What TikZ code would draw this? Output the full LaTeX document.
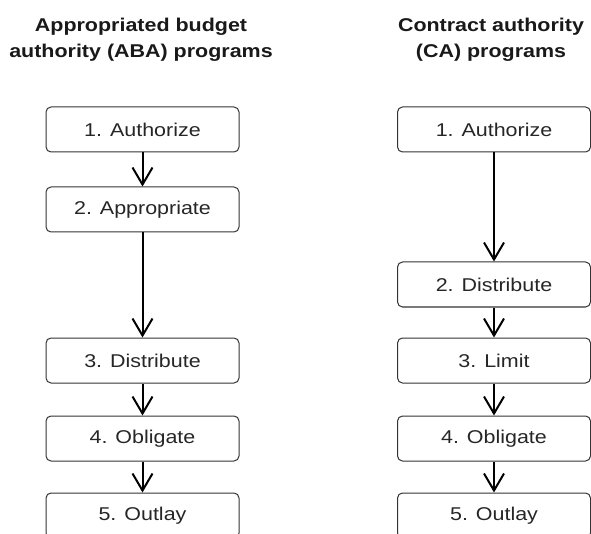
\documentclass[tikz,border=0pt]{standalone}
\usepackage{fontspec}
\setmainfont{Liberation Sans}[FakeStretch=1.16]
\usetikzlibrary{arrows.meta,shapes,positioning}

\begin{document}
\begin{tikzpicture}[x=1pt, y=-1pt,
        stage/.style={draw=black!80, line width=1pt, rounded corners=5pt, minimum width=193pt, minimum height=45pt, inner sep=0pt, text=black!85, font=\fontsize{18.5}{22}\selectfont},
        head/.style={align=center, inner sep=0pt, text=black!90, font=\bfseries\fontsize{18.5}{26}\selectfont},
        flow/.style={-{Straight Barb[length=17pt,width=20pt]}, line width=2pt}]
        \clip (0,0) rectangle (591,534);

        \node[head] (ABA) at (141,40) {Appropriated budget\\authority (ABA) programs};
        \node[head] (CA) at (491,40) {Contract authority\\(CA) programs};

        \node[stage] (A1) at (142.5,129.5) {1. Authorize};
        \node[stage] (A2) at (142.5,209.5) {2. Appropriate};
        \node[stage] (A3) at (142.5,360.5) {3. Distribute};
        \node[stage] (A4) at (142.5,438.5) {4. Obligate};
        \node[stage] (A5) at (142.5,515.5) {5. Outlay};

        \node[stage] (C1) at (494,129.5) {1. Authorize};
        \node[stage] (C2) at (494,284.5) {2. Distribute};
        \node[stage] (C3) at (494,360.5) {3. Limit};
        \node[stage] (C4) at (494,438.5) {4. Obligate};
        \node[stage] (C5) at (494,515.5) {5. Outlay};

        \draw[flow] (A1) to (A2);
        \draw[flow] (A2) to (A3);
        \draw[flow] (A3) to (A4);
        \draw[flow] (A4) to (A5);

        \draw[flow] (C1) to (C2);
        \draw[flow] (C2) to (C3);
        \draw[flow] (C3) to (C4);
        \draw[flow] (C4) to (C5);
    \end{tikzpicture}
\end{document}
